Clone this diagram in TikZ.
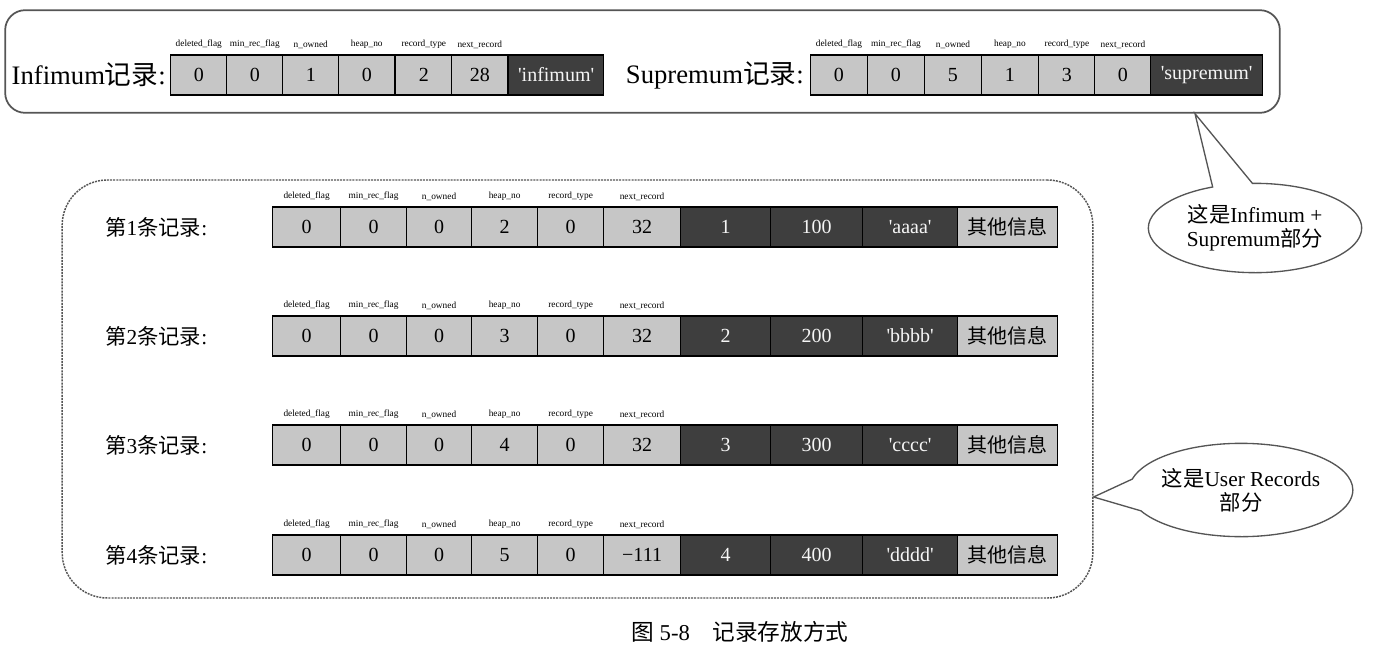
\documentclass[tikz,border=0pt]{standalone}
\usepackage{fontspec}
\setmainfont{Liberation Serif}
\newfontfamily\cjk{Noto Sans CJK SC}
\newcommand\zh[1]{{\cjk #1}}
\newcommand\sq{\textquotesingle}
\usepackage{tikz}
\usetikzlibrary{shapes.callouts}

\definecolor{cellgray}{RGB}{198,198,198}
\definecolor{darkcell}{RGB}{62,62,62}
\definecolor{linegray}{RGB}{85,85,85}

\tikzset{
  lcell/.style={draw=black, line width=0.9pt, fill=cellgray, anchor=west,
    minimum height=30pt, inner sep=0pt, font=\fontsize{15}{15}\selectfont},
  dcell/.style={lcell, fill=darkcell, text=white!92!gray},
  hdr/.style={anchor=south, yshift=4pt, inner sep=0pt, font=\fontsize{7}{7}\selectfont},
  rowlbl/.style={anchor=west, inner sep=0pt, font=\fontsize{16}{16}\selectfont},
  biglbl/.style={anchor=east, inner sep=0pt, font=\fontsize{20}{20}\selectfont},
  note/.style={ellipse callout, draw=linegray, line width=1pt, fill=white, align=center,
    inner sep=0pt, font=\fontsize{16}{18}\selectfont},
}

\begin{document}
\begin{tikzpicture}[x=0.75pt,y=-0.75pt]
\useasboundingbox (0,0) rectangle (1388,652);

% system records
\node[draw=linegray, line width=1.3pt, rounded corners=15pt, minimum width=956pt,
      minimum height=77pt] (topbox) at (642.5,61.5) {};

\node[biglbl] (inflbl) at (166,75) {Infimum\zh{记录}:};
\foreach \c/\x/\t/\h in {1/170/0/deleted\_flag, 2/226/0/min\_rec\_flag, 3/282/1/n\_owned,
    4/338/0/heap\_no, 5/395/2/record\_type, 6/451/28/next\_record} {
  \node[lcell, minimum width=42.3pt] (inf-\c) at (\x,75) {\t};
  \node[hdr] (infh-\c) at (inf-\c.north) {\h};
}
\node[dcell, minimum width=71.3pt] (inf-7) at (508,75) {\sq infimum\sq};

\node[biglbl] (suplbl) at (804,75) {Supremum\zh{记录}:};
\foreach \c/\x/\t/\h in {1/810/0/deleted\_flag, 2/867/0/min\_rec\_flag, 3/924/5/n\_owned,
    4/981/1/heap\_no, 5/1038/3/record\_type, 6/1094/0/next\_record} {
  \node[lcell, minimum width=42.5pt] (sup-\c) at (\x,75) {\t};
  \node[hdr] (suph-\c) at (sup-\c.north) {\h};
}
\node[dcell, minimum width=84pt] (sup-7) at (1150,75) {\sq supremum\sq};

% user records
\node[draw=linegray, line width=1.1pt, dash pattern=on 1.5pt off 0.8pt, rounded corners=34pt,
      minimum width=773pt, minimum height=313.5pt] (userbox) at (577.5,389) {};

\foreach \r/\y/\hn/\nx/\va/\st in {1/227/2/32/100/aaaa, 2/336/3/32/200/bbbb,
    3/445/4/32/300/cccc, 4/555/5/−111/400/dddd} {
  \node[rowlbl] (lbl-\r) at (105,\y) {\zh{第}\r\zh{条记录}:};
  \foreach \c/\x/\w/\t/\h in {1/272/68/0/deleted\_flag, 2/340/66/0/min\_rec\_flag,
      3/406/65/0/n\_owned, 4/471/66/\hn/heap\_no, 5/537/66/0/record\_type, 6/603/77/\nx/next\_record} {
    \node[lcell, minimum width=\w*0.75pt] (r\r-\c) at (\x,\y) {\t};
    \node[hdr] (h\r-\c) at (r\r-\c.north) {\h};
  }
  \node[dcell, minimum width=67.5pt] (r\r-7) at (680,\y) {\r};
  \node[dcell, minimum width=69pt] (r\r-8) at (770,\y) {\va};
  \node[dcell, minimum width=71.3pt] (r\r-9) at (862,\y) {\sq\st\sq};
  \node[lcell, minimum width=75pt] (r\r-10) at (957,\y) {\zh{其他信息}};
}

% callouts
\coordinate (tip1) at (topbox.south -| 1195,0);
\node[note, minimum width=160pt, minimum height=67pt, callout pointer arc=22,
      callout absolute pointer=(tip1)] (sysnote) at (1255,228)
  {\zh{这是}Infimum +\\Supremum\zh{部分}};

\coordinate (tip2) at (userbox.east |- 0,497);
\node[note, minimum width=159pt, minimum height=70pt, callout pointer arc=40,
      callout absolute pointer=(tip2)] (usrnote) at (1241,490)
  {\zh{这是}User Records\\\zh{部分}};

\node[font=\fontsize{17}{17}\selectfont] (caption) at (740,632)
  {\zh{图} 5-8\quad\zh{记录存放方式}};
\end{tikzpicture}
\end{document}
